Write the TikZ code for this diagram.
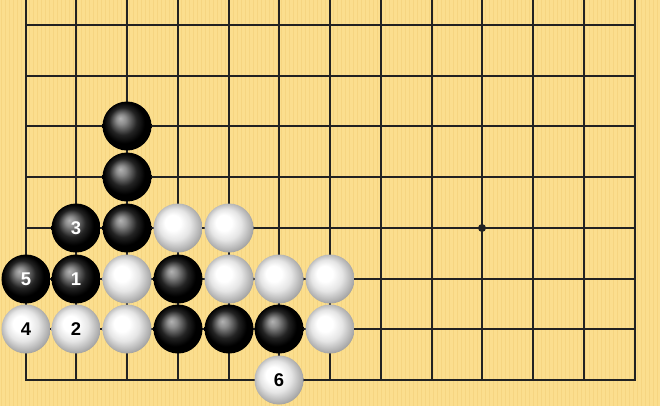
\documentclass[tikz,border=0pt]{standalone}
\usepackage{fontspec}
\setmainfont{Liberation Sans}
\definecolor{board}{HTML}{FBDE8E}
\definecolor{grain}{HTML}{F3CF78}
\definecolor{gridc}{HTML}{222222}
\pgfdeclareradialshading{blackstone}{\pgfpoint{-7bp}{8bp}}{color(0bp)=(black!30); color(5bp)=(black!45); color(14bp)=(black!86); color(21bp)=(black); color(28bp)=(black); color(36bp)=(black!70)}
\pgfdeclareradialshading{whitestone}{\pgfpoint{-7bp}{7bp}}{color(0bp)=(white); color(8bp)=(white); color(16bp)=(black!10); color(24bp)=(black!30); color(33bp)=(black!55)}
\tikzset{
  stoneb/.style={circle, minimum size=49bp, inner sep=0pt, shading=blackstone, text=white, font=\bfseries\fontsize{18.5}{18.5}\selectfont},
  stonew/.style={circle, minimum size=49bp, inner sep=0pt, shading=whitestone, text=black, font=\bfseries\fontsize{18.5}{18.5}\selectfont},
  gridline/.style={draw=gridc, line width=2bp},
}
\begin{document}
\begin{tikzpicture}[x=1bp, y=-1bp]
\useasboundingbox (0,0) rectangle (660,406);
\fill[board] (0,0) rectangle (660,406);
\foreach \s in {0,4,...,660} {
  \draw[grain, line width=1bp, opacity=0.55] (\s+1.5,0) -- (\s+1.5,406);
}
% grid
\foreach \x in {26,76,127,178,229,279,330,381,432,482,533,584,635} {
  \draw[gridline] (\x,0) -- (\x,380);
}
\foreach \y in {380,329,279,228,177,126,76,25} {
  \draw[gridline] (25,\y) -- (636,\y);
}
\fill[gridc] (482,228) circle (4bp);
% stones
\node[stoneb] (b25) at (127,126) {};
\node[stoneb] (b24) at (127,177) {};
\node[stoneb] (b13) at (76,228) {3};
\node[stoneb] (b23) at (127,228) {};
\node[stonew] (w33) at (178,228) {};
\node[stonew] (w43) at (229,228) {};
\node[stoneb] (b02) at (26,279) {5};
\node[stoneb] (b12) at (76,279) {1};
\node[stonew] (w22) at (127,279) {};
\node[stoneb] (b32) at (178,279) {};
\node[stonew] (w42) at (229,279) {};
\node[stonew] (w52) at (279,279) {};
\node[stonew] (w62) at (330,279) {};
\node[stonew] (w01) at (26,329) {4};
\node[stonew] (w11) at (76,329) {2};
\node[stonew] (w21) at (127,329) {};
\node[stoneb] (b31) at (178,329) {};
\node[stoneb] (b41) at (229,329) {};
\node[stoneb] (b51) at (279,329) {};
\node[stonew] (w61) at (330,329) {};
\node[stonew] (w50) at (279,380) {6};
\end{tikzpicture}
\end{document}
